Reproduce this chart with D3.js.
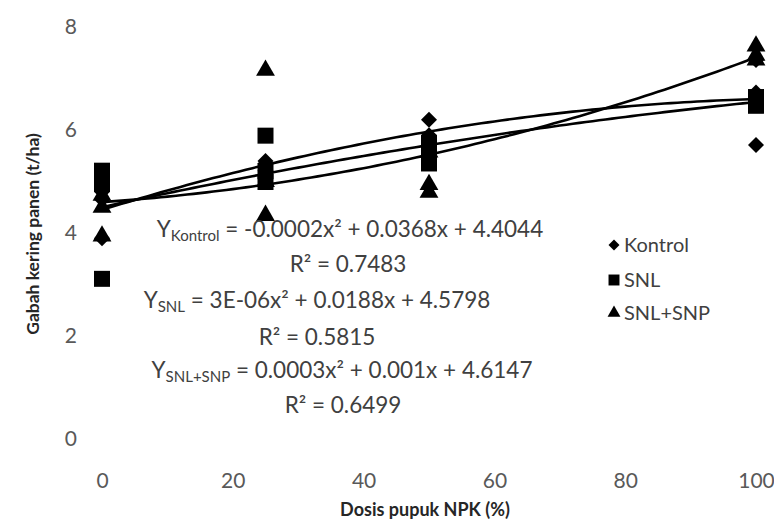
<!DOCTYPE html>
<html><head><meta charset="utf-8">
<script src="https://cdn.jsdelivr.net/npm/d3@7"></script>
<style>body{margin:0;background:#fff} svg{display:block}</style>
</head><body><svg id="c" width="774" height="526"></svg>
<script>
// ---- data ----
const doseLevels = [0, 25, 50, 100];
const kontrolValues = [[4.8, 4.65, 3.9], [5.4, 5.35, 5.21], [6.2, 5.9, 5.81], [7.36, 6.73, 5.71]];
const snlValues     = [[5.21, 4.95, 3.11], [5.89, 5.2, 4.99], [5.75, 5.55, 5.35], [6.47, 6.6, 6.64]];
const snlSnpValues  = [[4.5, 3.94, 4.73], [7.16, 4.34, 5.0], [4.79, 4.94, 5.57], [7.63, 7.45, 7.36]];
const seriesNames = ["Kontrol", "SNL", "SNL+SNP"];
const xTickValues = [0, 20, 40, 60, 80, 100];
const yTickValues = [0, 2, 4, 6, 8];
const eqSubscripts = ["Kontrol", "SNL", "SNL+SNP"];
const eqBodies = ["= -0.0002x\u00B2 + 0.0368x + 4.4044", "= 3E-06x\u00B2 + 0.0188x + 4.5798", "= 0.0003x\u00B2 + 0.001x + 4.6147"];
const r2Labels = ["R\u00B2 = 0.7483", "R\u00B2 = 0.5815", "R\u00B2 = 0.6499"];
const xTitle = "Dosis pupuk NPK (%)";
const yTitle = "Gabah kering panen (t/ha)";

// ---- setup ----
const svg = d3.select("#c");
const FONT = "Lato, 'Open Sans', sans-serif";
const x = d3.scaleLinear().domain([0, 100]).range([102, 756]);
const y = d3.scaleLinear().domain([0, 8]).range([439, 27]);

const allSeries = [kontrolValues, snlValues, snlSnpValues].map((vals, i) => ({
  name: seriesNames[i],
  pts: vals.flatMap((reps, j) => reps.map(v => ({dose: doseLevels[j], v})))
}));

// least-squares quadratic fit (Excel polynomial trendline, order 2)
function polyFit(pts) {
  const S = [[0,0,0],[0,0,0],[0,0,0]], T = [0,0,0];
  pts.forEach(p => {
    const b = [1, p.dose, p.dose * p.dose];
    for (let i = 0; i < 3; i++) { T[i] += b[i] * p.v; for (let j = 0; j < 3; j++) S[i][j] += b[i] * b[j]; }
  });
  const A = S.map((row, i) => [...row, T[i]]);
  for (let c = 0; c < 3; c++) {
    let m = c; for (let r = c + 1; r < 3; r++) if (Math.abs(A[r][c]) > Math.abs(A[m][c])) m = r;
    [A[c], A[m]] = [A[m], A[c]];
    for (let r = 0; r < 3; r++) if (r !== c) { const f = A[r][c] / A[c][c]; for (let k = c; k < 4; k++) A[r][k] -= f * A[c][k]; }
  }
  return A.map((row, i) => row[3] / row[i]);
}

// ---- axes ----
const xAxis = svg.append("g").attr("transform", "translate(0,473)")
  .call(d3.axisBottom(x).tickValues(xTickValues).tickSize(0).tickPadding(0));
const yAxis = svg.append("g").attr("transform", "translate(77,0)")
  .call(d3.axisLeft(y).tickValues(yTickValues).tickSize(0).tickPadding(0));
[xAxis, yAxis].forEach(g => {
  g.select(".domain").remove();
  g.selectAll("text").attr("font-family", FONT).attr("font-size", 21).attr("fill", "#595959");
});

// ---- trend lines ----
const line = d3.line().x(d => x(d[0])).y(d => y(d[1]));
allSeries.forEach(s => {
  const c = polyFit(s.pts);
  const xs = d3.range(0, 100.01, 1);
  svg.append("path").attr("d", line(xs.map(t => [t, c[0] + c[1] * t + c[2] * t * t])))
    .attr("fill", "none").attr("stroke", "#000").attr("stroke-width", 2.6);
});

// ---- markers ----
const shapes = [
  size => d3.symbol(d3.symbolSquare, size * 0.5)(),
  size => d3.symbol(d3.symbolSquare, size)(),
  size => d3.symbol(d3.symbolTriangle, size * 0.6)()
];
const markerRot = [45, 0, 0];
const markerSize = 256;
allSeries.forEach((s, i) => {
  svg.append("g").selectAll("path").data(s.pts).join("path")
    .attr("d", shapes[i](markerSize))
    .attr("transform", d => `translate(${x(d.dose)},${y(d.v)}) rotate(${markerRot[i]})`)
    .attr("fill", "#000");
});

// ---- equations ----
const eqCenters = [[350, 237], [317, 308], [342, 378]];
const r2Centers = [[348, 272], [317, 345], [343, 413]];
eqBodies.forEach((body, i) => {
  const t = svg.append("text").attr("x", eqCenters[i][0]).attr("y", eqCenters[i][1])
    .attr("text-anchor", "middle").attr("font-family", FONT).attr("font-size", 22.5).attr("fill", "#404040");
  t.append("tspan").text("Y");
  t.append("tspan").text(eqSubscripts[i]).attr("font-size", 15).attr("dy", 4);
  t.append("tspan").text(" " + body).attr("dy", -4);
  svg.append("text").attr("x", r2Centers[i][0]).attr("y", r2Centers[i][1])
    .attr("text-anchor", "middle").attr("font-family", FONT).attr("font-size", 22.5).attr("fill", "#404040")
    .text(r2Labels[i]);
});

// ---- legend ----
const legendY = [245, 280, 313];
seriesNames.forEach((n, i) => {
  svg.append("path").attr("d", shapes[i](120))
    .attr("transform", `translate(614,${legendY[i]}) rotate(${markerRot[i]})`).attr("fill", "#000");
  svg.append("text").attr("x", 624).attr("y", legendY[i]).attr("dy", "0.35em")
    .attr("font-family", FONT).attr("font-size", 20).attr("fill", "#404040").text(n);
});

// ---- axis titles ----
svg.append("text").attr("x", 425).attr("y", 516).attr("text-anchor", "middle")
  .attr("font-family", FONT).attr("font-weight", "bold").attr("font-size", 18).attr("fill", "#262626").text(xTitle);
svg.append("text").attr("transform", "translate(39,234) rotate(-90)").attr("text-anchor", "middle")
  .attr("font-family", FONT).attr("font-weight", "bold").attr("font-size", 17.5).attr("fill", "#262626").text(yTitle);
</script></body></html>
